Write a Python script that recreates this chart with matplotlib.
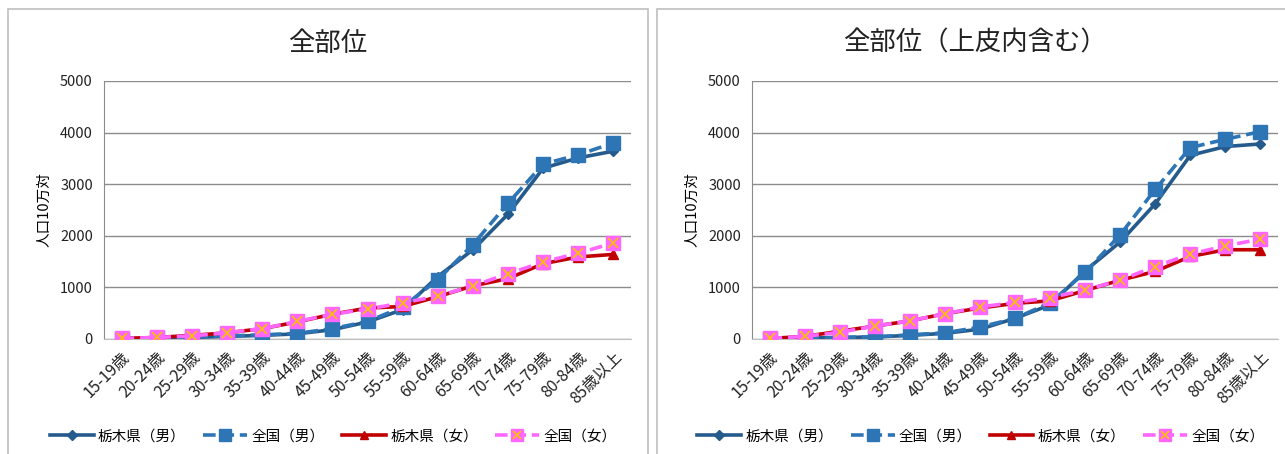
import matplotlib
matplotlib.use('Agg')
import matplotlib.pyplot as plt
from matplotlib.patches import Rectangle

plt.rcParams['font.family'] = ['Noto Sans CJK JP', 'DejaVu Sans']

# Data (rate per 100,000 population)
age_groups = ['15-19歳', '20-24歳', '25-29歳', '30-34歳', '35-39歳', '40-44歳', '45-49歳',
              '50-54歳', '55-59歳', '60-64歳', '65-69歳', '70-74歳', '75-79歳', '80-84歳', '85歳以上']
series_names = ['栃木県（男）', '全国（男）', '栃木県（女）', '全国（女）']

# 全部位
all_tochigi_m = [5, 20, 30, 50, 70, 100, 180, 330, 570, 1210, 1730, 2420, 3310, 3510, 3640]
all_japan_m = [5, 15, 40, 60, 80, 110, 200, 340, 620, 1150, 1830, 2630, 3390, 3570, 3800]
all_tochigi_f = [10, 30, 70, 120, 200, 330, 480, 600, 630, 820, 1030, 1170, 1460, 1590, 1640]
all_japan_f = [10, 30, 60, 120, 200, 340, 480, 580, 700, 830, 1030, 1265, 1490, 1665, 1860]

# 全部位(上皮内含む)
ins_tochigi_m = [5, 20, 30, 40, 70, 110, 190, 400, 660, 1320, 1880, 2620, 3560, 3730, 3780]
ins_japan_m = [5, 10, 30, 40, 80, 120, 230, 400, 700, 1290, 2020, 2900, 3710, 3870, 4020]
ins_tochigi_f = [10, 50, 150, 250, 350, 490, 600, 690, 740, 940, 1140, 1310, 1600, 1730, 1730]
ins_japan_f = [10, 50, 130, 250, 350, 490, 620, 710, 800, 950, 1140, 1405, 1645, 1805, 1935]

W, H = 1285, 454
fig = plt.figure(figsize=(W / 100, H / 100), dpi=100)

# chart frames
for x0, x1 in [(8, 648), (657, 1295)]:
    fig.patches.append(Rectangle((x0 / W, -0.1), (x1 - x0) / W, 1.1 - 9 / H,
                                 transform=fig.transFigure, fill=False,
                                 edgecolor='#bfbfbf', linewidth=1.2))


def draw(ax, title, title_x, tm, jm, tf, jf):
    x = list(range(len(age_groups)))
    l1, = ax.plot(x, tm, color='#255b8c', lw=2.6, marker='D', ms=5.5, zorder=3)
    l2, = ax.plot(x, jm, color='#2e75b6', lw=2.6, ls=(0, (3.5, 1.6)), marker='s', ms=9.5, zorder=4)
    l3, = ax.plot(x, tf, color='#c00000', lw=2.6, marker='^', ms=7.5, zorder=5)
    l4, = ax.plot(x, jf, color='#ff66ff', lw=2.6, ls=(0, (3.5, 1.6)), marker='s', ms=9.5,
                  markeredgecolor='#ff66ff', zorder=6)
    l5, = ax.plot(x, jf, ls='none', marker='x', ms=7, mew=1.2, color='#ffc000', zorder=7)

    ax.set_xlim(-0.5, len(age_groups) - 0.5)
    ax.set_ylim(0, 5000)
    ax.set_yticks([0, 1000, 2000, 3000, 4000, 5000])
    ax.grid(axis='y', color='#8c8c8c', lw=1)
    ax.set_axisbelow(True)
    for s in ['top', 'right']:
        ax.spines[s].set_visible(False)
    ax.spines['left'].set_color('#8c8c8c')
    ax.spines['bottom'].set_color('#bfbfbf')
    ax.tick_params(length=0, labelsize=10.5, colors='#222222', pad=8)
    ax.set_xticks(x)
    ax.set_xticklabels(age_groups, rotation=45, ha='right', rotation_mode='anchor', fontsize=11.5)
    ax.tick_params(axis='x', pad=7)
    ax.set_ylabel('人口10万対', fontsize=10.5, labelpad=6)
    fig.text(title_x / W, 1 - 43 / H, title, fontsize=19, ha='center', va='center', color='#222222')

    ax.legend([l1, l2, l3, (l4, l5)], series_names, loc='center', ncol=4, frameon=False,
              bbox_to_anchor=(0.435, -0.378), fontsize=10.5, handlelength=3.0,
              columnspacing=1.2, handletextpad=0.3, markerscale=0.85)


ax1 = fig.add_axes([104 / W, (H - 339) / H, 527 / W, 258 / H])
draw(ax1, '全部位', 328, all_tochigi_m, all_japan_m, all_tochigi_f, all_japan_f)

ax2 = fig.add_axes([752 / W, (H - 339) / H, 526 / W, 258 / H])
draw(ax2, '全部位（上皮内含む）', 975, ins_tochigi_m, ins_japan_m, ins_tochigi_f, ins_japan_f)

fig.savefig('out.png', dpi=100)
